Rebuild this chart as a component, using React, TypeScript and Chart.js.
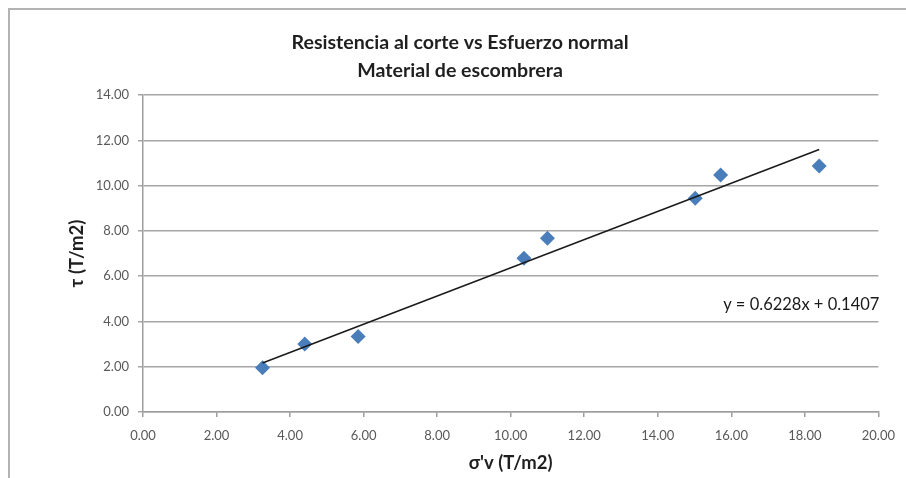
import React, { useEffect, useRef } from "react";
import { Chart, registerables } from "chart.js";

Chart.register(...registerables);

const sigmaV: number[] = [3.25, 4.4, 5.85, 10.36, 11.0, 15.02, 15.71, 18.39];
const tau: number[] = [1.96, 3.0, 3.33, 6.79, 7.67, 9.44, 10.47, 10.87];
const trendSlope = 0.6228;
const trendIntercept = 0.1407;
const titleLines: string[] = ["Resistencia al corte vs Esfuerzo normal", "Material de escombrera"];
const xTitle = "σ'v (T/m2)";
const yTitle = "τ (T/m2)";
const equationText = "y = 0.6228x + 0.1407";

const FONT = "Lato, 'Open Sans', sans-serif";

export default function App() {
  const ref = useRef<HTMLCanvasElement | null>(null);

  useEffect(() => {
    document.body.style.margin = "0";
    const canvas = ref.current;
    if (!canvas) return;

    const xMin = Math.min(...sigmaV);
    const xMax = Math.max(...sigmaV);
    const trend = [
      { x: xMin, y: trendSlope * xMin + trendIntercept },
      { x: xMax, y: trendSlope * xMax + trendIntercept },
    ];

    const framePlugin = {
      id: "frame",
      beforeDraw(chart: any) {
        const ctx = chart.ctx;
        ctx.save();
        ctx.fillStyle = "#ffffff";
        ctx.fillRect(0, 0, chart.width, chart.height);
        ctx.strokeStyle = "#b3b3b3";
        ctx.lineWidth = 2;
        ctx.strokeRect(9, 9, chart.width + 50, chart.height + 50);
        ctx.restore();
      },
    };

    const equationPlugin = {
      id: "equation",
      afterDatasetsDraw(chart: any) {
        const ctx = chart.ctx;
        const ys = chart.scales.y;
        ctx.save();
        ctx.font = `16.5px ${FONT}`;
        ctx.fillStyle = "#1a1a1a";
        ctx.textAlign = "right";
        ctx.textBaseline = "middle";
        ctx.fillText(equationText, chart.chartArea.right + 1, ys.getPixelForValue(4.72));
        ctx.restore();
      },
    };

    const chart = new Chart(canvas, {
      type: "scatter",
      data: {
        datasets: [
          {
            label: "τ",
            data: sigmaV.map((x, i) => ({ x, y: tau[i] })),
            pointStyle: "rectRot",
            pointRadius: 7.5,
            pointHoverRadius: 7.5,
            backgroundColor: "#4a7ebb",
            borderColor: "#4a7ebb",
            borderWidth: 0,
            order: 2,
          },
          {
            type: "line",
            label: "trend",
            data: trend,
            borderColor: "#1a1a1a",
            borderWidth: 1.5,
            pointRadius: 0,
            showLine: true,
            fill: false,
            order: 1,
          } as any,
        ],
      },
      plugins: [framePlugin, equationPlugin],
      options: {
        animation: false,
        responsive: false,
        maintainAspectRatio: false,
        layout: { padding: { left: 36, right: 22, top: 0, bottom: 0 } },
        plugins: {
          legend: { display: false },
          tooltip: { enabled: false },
          title: {
            display: true,
            text: titleLines,
            color: "#1f1f1f",
            font: { family: FONT, size: 19.6, weight: "bold", lineHeight: 1.43 },
            padding: { top: 29, bottom: 10 },
          },
        },
        scales: {
          x: {
            type: "linear",
            min: 0,
            max: 20,
            afterFit(scale: any) {
              scale.height = 66;
            },
            ticks: {
              stepSize: 2,
              color: "#595959",
              padding: 11,
              font: { family: FONT, size: 13 },
              callback: (v: any) => Number(v).toFixed(2),
              maxRotation: 0,
            },
            grid: {
              drawOnChartArea: false,
              drawTicks: true,
              tickLength: 5,
              color: "#9e9e9e",
              lineWidth: 1.5,
            },
            border: { color: "#9e9e9e", width: 1.5 },
            title: {
              display: true,
              text: xTitle,
              color: "#1f1f1f",
              font: { family: FONT, size: 18.5, weight: "bold" },
              padding: { top: 0, bottom: 4 },
            },
          },
          y: {
            type: "linear",
            min: 0,
            max: 14,
            afterFit(scale: any) {
              scale.width = 107;
            },
            ticks: {
              stepSize: 2,
              color: "#595959",
              padding: 9,
              font: { family: FONT, size: 13 },
              callback: (v: any) => Number(v).toFixed(2),
            },
            grid: {
              drawOnChartArea: true,
              drawTicks: true,
              tickLength: 5,
              color: "#a6a6a6",
              lineWidth: 1.5,
            },
            border: { color: "#9e9e9e", width: 1.5 },
            title: {
              display: true,
              text: yTitle,
              color: "#1f1f1f",
              font: { family: FONT, size: 18.5, weight: "bold" },
              padding: { top: 30, bottom: 0 },
            },
          },
        },
      },
    } as any);

    return () => chart.destroy();
  }, []);

  return (
    <div style={{ width: 906, height: 478 }}>
      <canvas ref={ref} width={906} height={478} style={{ display: "block", width: 906, height: 478 }} />
    </div>
  );
}
